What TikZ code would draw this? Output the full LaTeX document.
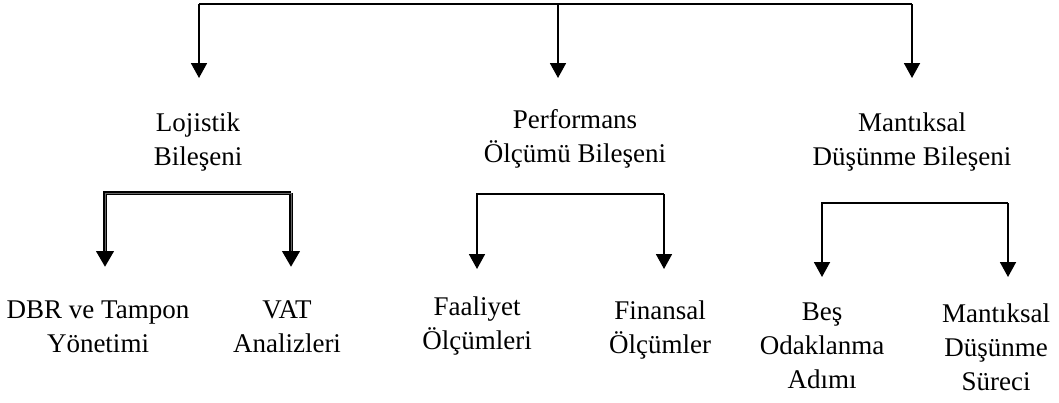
\documentclass[tikz,border=0pt]{standalone}
\usepackage{fontspec}
\setmainfont{Liberation Serif}
\usetikzlibrary{arrows.meta}
\begin{document}
\begin{tikzpicture}[x=1pt,y=-1pt,
  lbl/.style={anchor=base,inner sep=0pt,font=\fontsize{27}{34}\selectfont},
  link/.style={line width=1.8pt,line join=miter},
  thicklink/.style={line width=4pt,line join=miter},
  core/.style={line width=0.7pt,draw=black!60,shorten >=16pt},
  arr/.style={-{Triangle[width=16pt,length=15pt]}},
  bigarr/.style={-{Triangle[width=17pt,length=16pt]}}]
\useasboundingbox (0,0) rectangle (1059,402);

% first level
\node[lbl] (loj) at (198,131) {\begin{tabular}[t]{@{}c@{}}Lojistik\\Bileşeni\end{tabular}};
\node[lbl] (perf) at (575,128) {\begin{tabular}[t]{@{}c@{}}Performans\\Ölçümü Bileşeni\end{tabular}};
\node[lbl] (mant) at (912,131) {\begin{tabular}[t]{@{}c@{}}Mantıksal\\Düşünme Bileşeni\end{tabular}};

% second level
\node[lbl] (dbr) at (98,318) {\begin{tabular}[t]{@{}c@{}}DBR ve Tampon\\Yönetimi\end{tabular}};
\node[lbl] (vat) at (287,318) {\begin{tabular}[t]{@{}c@{}}VAT\\Analizleri\end{tabular}};
\node[lbl] (faal) at (477,315) {\begin{tabular}[t]{@{}c@{}}Faaliyet\\Ölçümleri\end{tabular}};
\node[lbl] (fin) at (660,319) {\begin{tabular}[t]{@{}c@{}}Finansal\\Ölçümler\end{tabular}};
\node[lbl] (bes) at (822,320) {\begin{tabular}[t]{@{}c@{}}Beş\\Odaklanma\\Adımı\end{tabular}};
\node[lbl] (msur) at (996,322) {\begin{tabular}[t]{@{}c@{}}Mantıksal\\Düşünme\\Süreci\end{tabular}};

% top bar and its three arrows
\coordinate (barL) at (199,4);
\coordinate (barM) at (558,4);
\coordinate (barR) at (912,4);
\coordinate (tipL) at (199,78);
\coordinate (tipM) at (558,78);
\coordinate (tipR) at (912,78);
\draw[link] (barL) -- (barR);
\draw[link,arr] (barL) -- (tipL);
\draw[link,arr] (barM) -- (tipM);
\draw[link,arr] (barR) -- (tipR);

% Lojistik bracket (heavy double-stroked line)
\coordinate (l1) at (105,193);
\coordinate (l2) at (291,193);
\coordinate (lt1) at (105,267);
\coordinate (lt2) at (291,267);
\draw[thicklink,bigarr] (l2) -- (l1) -- (lt1);
\draw[thicklink,bigarr] (l2) -- (lt2);
\draw[core] (l2) -- (l1) -- (lt1);
\draw[core] (l2) -- (lt2);

% Performans bracket
\coordinate (p1) at (477,194);
\coordinate (p2) at (664,194);
\coordinate (pt1) at (477,269);
\coordinate (pt2) at (664,269);
\draw[link,arr] (p2) -- (p1) -- (pt1);
\draw[link,arr] (p2) -- (pt2);

% Mantiksal bracket
\coordinate (m1) at (822,203);
\coordinate (m2) at (1008,203);
\coordinate (mt1) at (822,277);
\coordinate (mt2) at (1008,277);
\draw[link,arr] (m2) -- (m1) -- (mt1);
\draw[link,arr] (m2) -- (mt2);
\end{tikzpicture}
\end{document}
